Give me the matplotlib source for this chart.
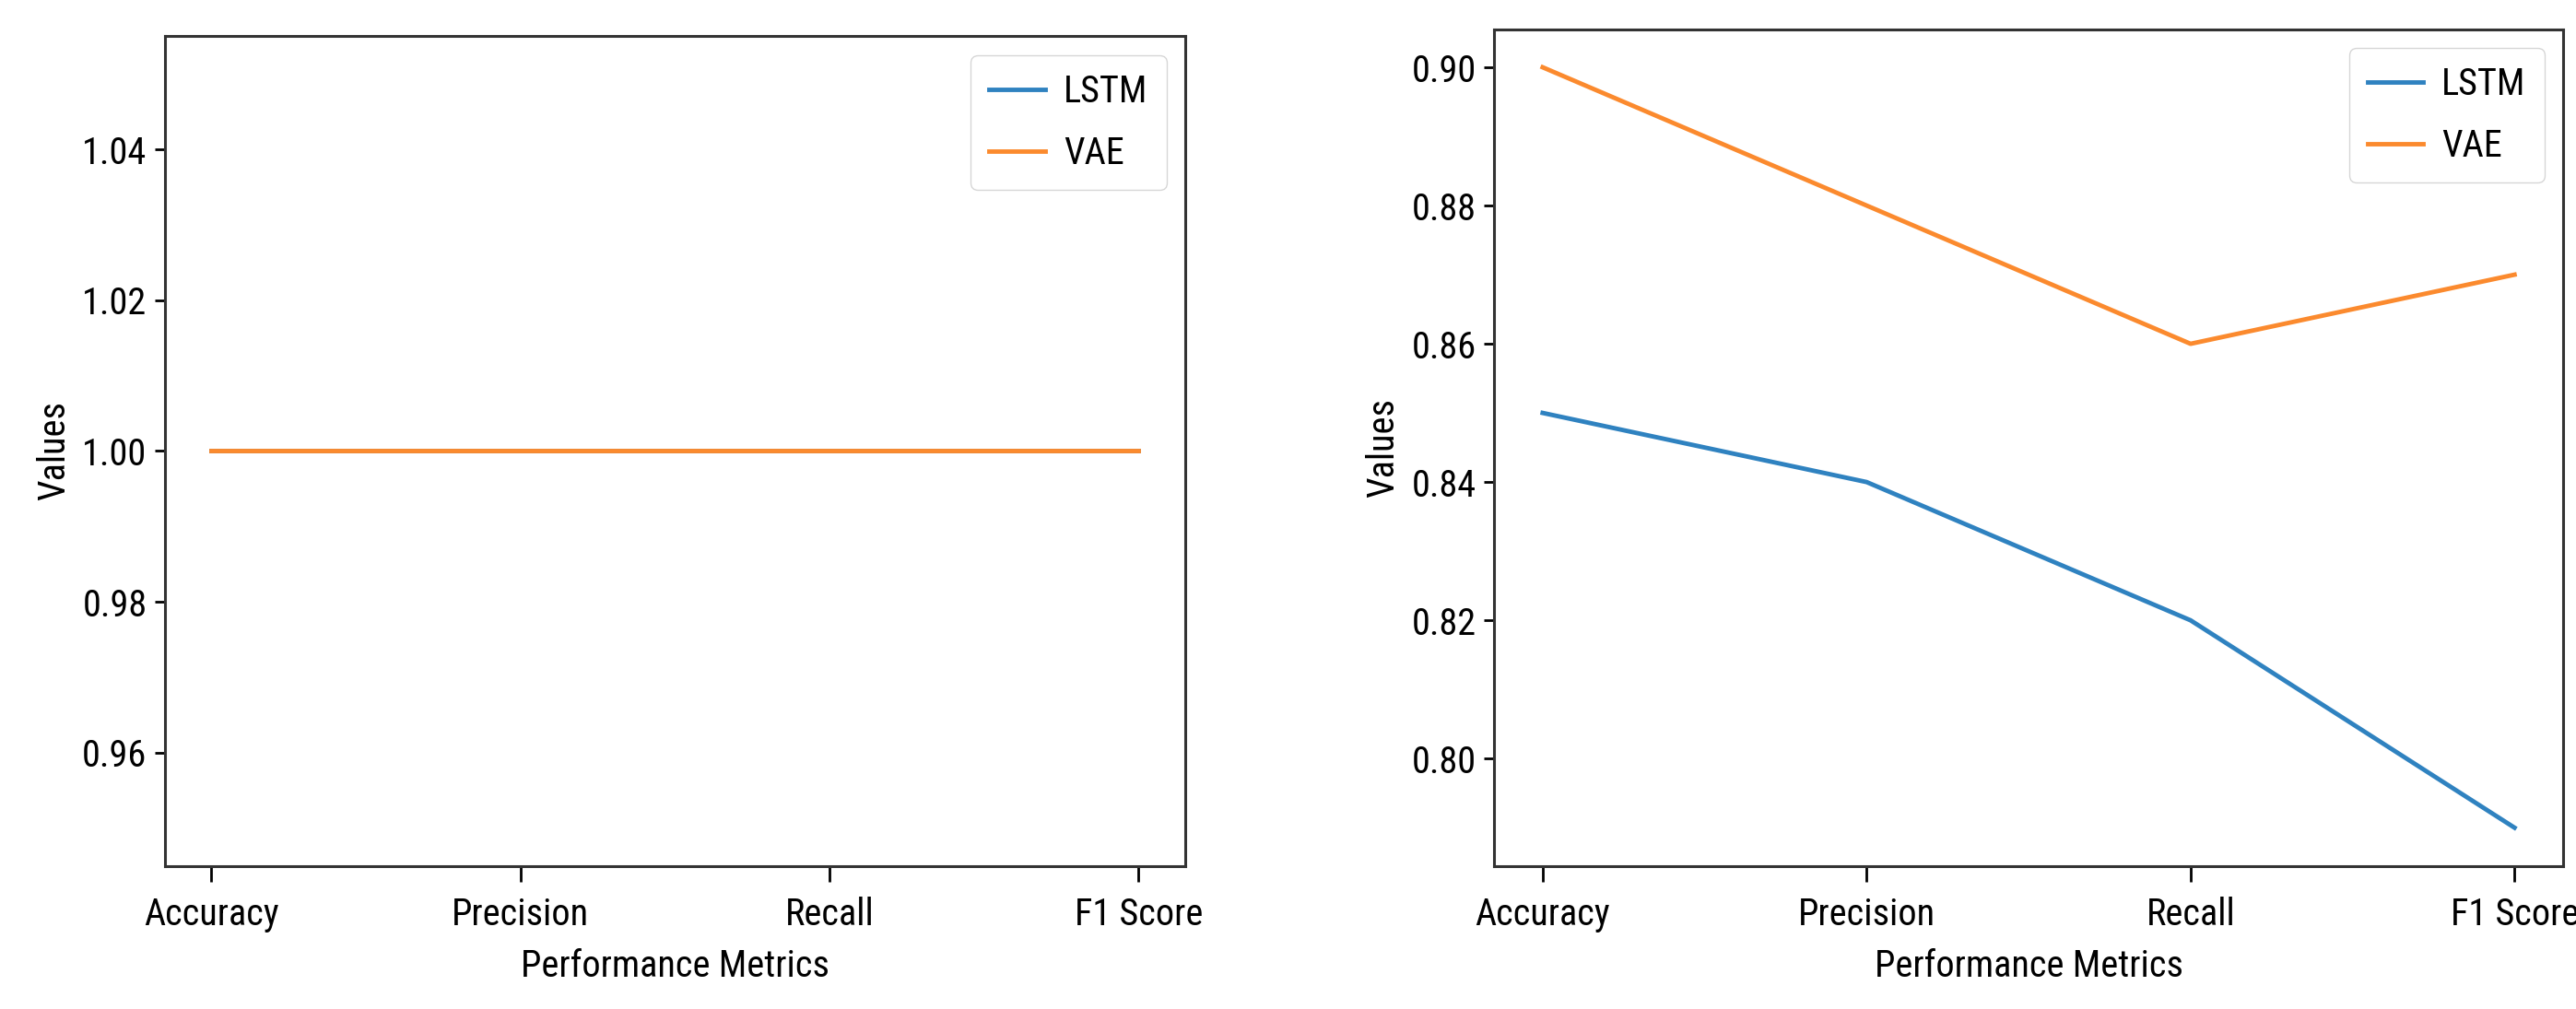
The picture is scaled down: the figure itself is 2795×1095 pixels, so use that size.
import matplotlib
matplotlib.use("Agg")
import matplotlib.pyplot as plt
from matplotlib import font_manager

metrics = ['Accuracy', 'Precision', 'Recall', 'F1 Score']

# left panel
lstm_left = [1.0, 1.0, 1.0, 1.0]
vae_left = [1.0, 1.0, 1.0, 1.0]

# right panel
lstm_right = [0.85, 0.84, 0.82, 0.79]
vae_right = [0.90, 0.88, 0.86, 0.87]

# the reference text is narrow, take a condensed face if there is one
narrow = None
for f in font_manager.fontManager.ttflist:
    if f.name in ('Liberation Sans Narrow', 'Roboto Condensed', 'Open Sans Condensed'):
        narrow = f.name
        break
if narrow is None:
    for f in font_manager.fontManager.ttflist:
        if f.name == 'DejaVu Sans' and f.stretch == 'condensed':
            narrow = 'DejaVu Sans'
            plt.rcParams['font.stretch'] = 'condensed'
            break
plt.rcParams['font.family'] = [narrow or 'DejaVu Sans', 'DejaVu Sans']

fig = plt.figure(figsize=(27.95, 10.95), dpi=100)
ax1 = fig.add_axes([0.064, 0.142, 0.396, 0.822])
ax2 = fig.add_axes([0.580, 0.142, 0.415, 0.829])

fs = 29

for ax, lstm, vae in [(ax1, lstm_left, vae_left), (ax2, lstm_right, vae_right)]:
    ax.plot(metrics, lstm, color='#2f82c0', linewidth=3.5, label='LSTM')
    ax.plot(metrics, vae, color='#fb8a2e', linewidth=3.5, label='VAE')
    ax.set_xlabel('Performance Metrics', fontsize=fs, labelpad=12)
    ax.set_ylabel('Values', fontsize=fs, labelpad=8)
    ax.tick_params(axis='x', labelsize=fs, width=2, length=12, pad=12)
    ax.tick_params(axis='y', labelsize=fs, width=2, length=8, pad=6)
    for s in ax.spines.values():
        s.set_linewidth(2.2)
        s.set_color('#333333')
    ax.legend(loc='upper right', fontsize=fs, handlelength=1.5,
              handletextpad=0.5, labelspacing=0.7, borderpad=0.5)

ax1.set_yticks([0.96, 0.98, 1.00, 1.02, 1.04])
ax1.set_yticklabels(['0.96', '0.98', '1.00', '1.02', '1.04'])

fig.savefig('out.png', dpi=100)
